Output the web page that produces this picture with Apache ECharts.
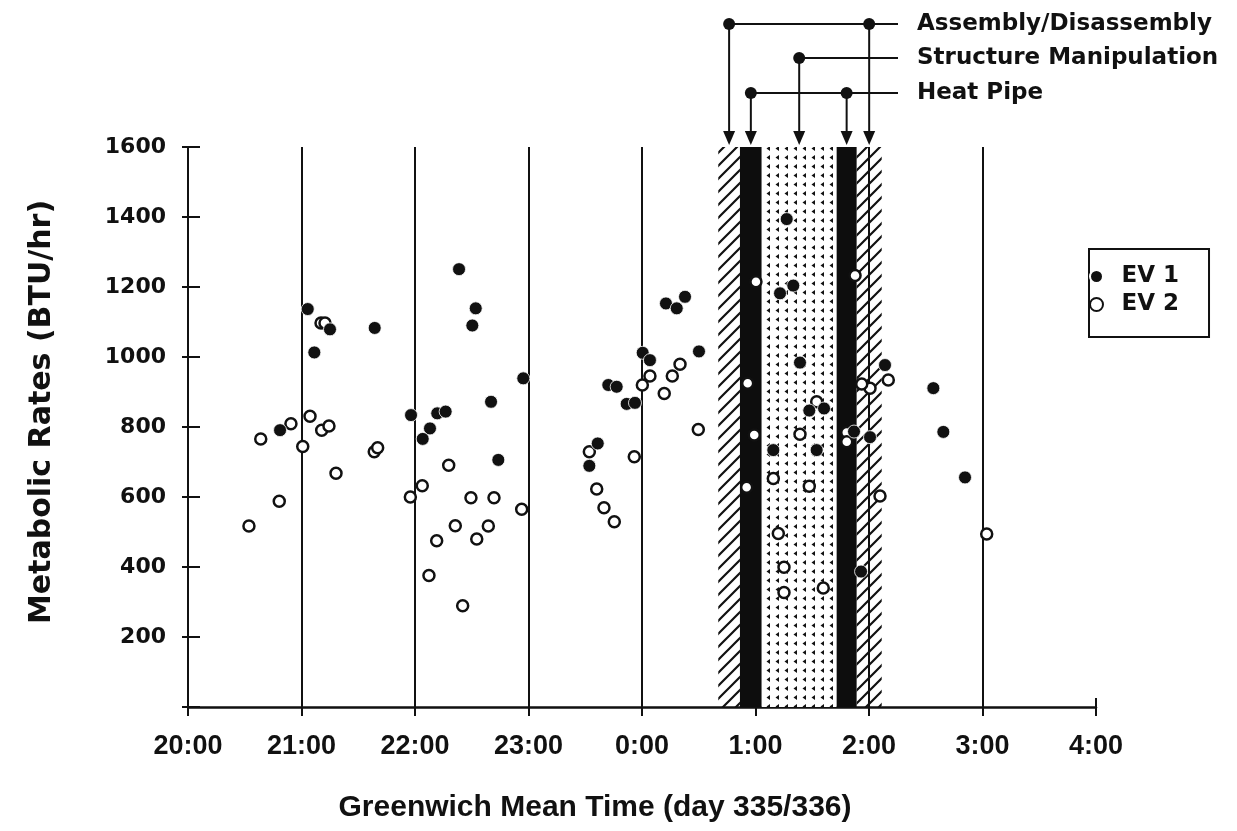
<!DOCTYPE html>
<html><head><meta charset="utf-8">
<script src="https://cdn.jsdelivr.net/npm/echarts@6/dist/echarts.min.js"></script>
<style>html,body{margin:0;padding:0;background:#fff}#c{width:1237px;height:831px}</style>
</head><body><div id="c"></div>
<script>
// ---- data (hours since 20:00 of day 335 expressed as 20..28) ----
const tickLabels = ['20:00','21:00','22:00','23:00','0:00','1:00','2:00','3:00','4:00'];
const yTicks = [0,200,400,600,800,1000,1200,1400,1600];

const ev1Times = [21.055,21.251,21.113,21.645,22.388,22.535,22.505,20.811,21.965,22.196,22.270,22.132,22.068,22.670,22.734,22.954,23.610,23.536,23.865,23.938,23.703,23.777,24.006,24.070,24.211,24.306,24.379,24.502,25.275,25.333,25.216,25.392,25.474,25.604,25.157,25.539,25.868,26.009,26.141,25.930,26.567,26.655,26.846];
const ev1Rates = [1137,1079,1013,1083,1251,1139,1090,791,834,839,844,796,766,872,706,939,753,689,866,869,920,915,1012,991,1153,1139,1172,1016,1394,1204,1182,984,847,853,734,734,787,771,977,387,911,786,656];

const ev2Times = [20.537,20.641,20.804,20.907,21.011,21.075,21.178,21.242,21.172,21.207,21.304,21.641,21.671,21.959,22.064,22.123,22.191,22.297,22.355,22.420,22.493,22.544,22.646,22.696,22.940,23.536,23.601,23.665,23.756,23.932,24.003,24.070,24.196,24.267,24.335,24.496,25.004,24.931,24.989,24.922,25.392,25.157,25.474,25.201,25.251,25.251,25.597,25.539,25.877,25.804,25.804,26.097,26.170,26.009,25.936,27.037];
const ev2Rates = [517,766,588,809,744,831,791,803,1097,1097,668,729,741,600,632,376,475,691,518,289,598,480,517,598,565,729,623,569,529,715,920,946,896,946,979,793,1215,925,777,628,779,653,631,496,399,327,340,872,1233,784,758,603,934,911,923,494];

// activity bands (time ranges)
const bandStarts = [24.672, 24.863, 25.055, 25.715, 25.891];
const bandEnds   = [24.863, 25.055, 25.715, 25.891, 26.112];
const bandKinds  = ['hatch','solid','dots','solid','hatch'];
const activityNames = ['Assembly/Disassembly','Structure Manipulation','Heat Pipe'];
const activityBands = [[0,4],[2],[1,3]];

// ---- patterns ----
function hatchPattern(){
  const c=document.createElement('canvas'); c.width=13; c.height=13;
  const g=c.getContext('2d'); g.strokeStyle='#111'; g.lineWidth=2.2;
  g.beginPath();
  g.moveTo(-2,15); g.lineTo(15,-2);
  g.moveTo(-3,3); g.lineTo(3,-3);
  g.moveTo(10,16); g.lineTo(16,10);
  g.stroke(); return c;
}
function dotPattern(){
  const c=document.createElement('canvas'); c.width=9; c.height=9;
  const g=c.getContext('2d'); g.fillStyle='#fff'; g.fillRect(0,0,9,9);
  g.fillStyle='#111';
  g.beginPath(); g.moveTo(1.5,4.5); g.lineTo(5,2); g.lineTo(5,7); g.closePath(); g.fill();
  return c;
}
const fills = {
  hatch: {image: hatchPattern(), repeat: 'repeat'},
  dots: {image: dotPattern(), repeat: 'repeat'},
  solid: '#0d0d0d'
};

const ev1 = ev1Times.map((t,i)=>[t, ev1Rates[i]]);
const ev2 = ev2Times.map((t,i)=>[t, ev2Rates[i]]);
const areas = bandStarts.map((s,i)=>[{xAxis:s, itemStyle:{color: fills[bandKinds[i]], opacity:1, borderWidth:0}}, {xAxis: bandEnds[i]}]);

const BOLD_WIDE = 'DejaVu Sans';
const BOLD_STD = 'Liberation Sans';

const chart = echarts.init(document.getElementById('c'), null, {renderer:'canvas'});
const option = {
  backgroundColor: '#fff',
  animation: false,
  grid: {left: 188, right: 141, top: 147, bottom: 124, containLabel: false},
  legend: {
    orient: 'vertical', left: 1089, top: 249,
    padding: [15, 30, 20, 0], itemGap: 3, itemWidth: 40, itemHeight: 13,
    borderColor: '#111', borderWidth: 2, borderRadius: 0,
    data: ['EV 1','EV 2'],
    textStyle: {fontFamily: BOLD_WIDE, fontWeight: 'bold', fontSize: 23, color: '#111', lineHeight: 25}
  },
  xAxis: [{
    type: 'value', min: 20, max: 28, interval: 1, position: 'bottom',
    axisLine: {show: true, onZero: false, lineStyle: {color: '#111', width: 2.5}},
    axisTick: {show: true, inside: false, length: 9, lineStyle: {color: '#111', width: 2}},
    axisLabel: {margin: 26, fontFamily: BOLD_STD, fontWeight: 'bold', fontSize: 27, color: '#111',
      formatter: v => tickLabels[Math.round(v - 20)]},
    splitLine: {show: true, showMinLine: false, showMaxLine: false, lineStyle: {color: '#111', width: 2}},
    name: 'Greenwich Mean Time (day 335/336)', nameLocation: 'middle', nameGap: 86,
    nameTextStyle: {fontFamily: BOLD_STD, fontWeight: 'bold', fontSize: 30, color: '#111', padding: [0, 94, 0, 0]}
  },{
    type: 'value', min: 20, max: 28, interval: 1, position: 'bottom',
    axisLine: {show: false, onZero: false},
    axisTick: {show: true, inside: true, length: 9, lineStyle: {color: '#111', width: 2}},
    axisLabel: {show: false}, splitLine: {show: false}
  }],
  yAxis: [{
    type: 'value', min: 0, max: 1600, interval: 200, position: 'left',
    axisLine: {show: true, onZero: false, lineStyle: {color: '#111', width: 2}},
    axisTick: {show: true, inside: true, length: 12, lineStyle: {color: '#111', width: 2}},
    axisLabel: {margin: 22, fontFamily: BOLD_WIDE, fontWeight: 'bold', fontSize: 22, color: '#111',
      formatter: v => (v === 0 ? '' : String(yTicks[v/200]))},
    splitLine: {show: false},
    name: 'Metabolic Rates (BTU/hr)', nameLocation: 'middle', nameRotate: 90, nameGap: 131,
    nameTextStyle: {fontFamily: BOLD_WIDE, fontWeight: 'bold', fontSize: 30, color: '#111', padding: [0, 0, 0, 30]}
  },{
    type: 'value', min: 0, max: 1600, interval: 200, position: 'left',
    axisLine: {show: false, onZero: false},
    axisTick: {show: true, inside: false, length: 6, lineStyle: {color: '#111', width: 2}},
    axisLabel: {show: false}, splitLine: {show: false}
  }],
  series: [{
    name: 'EV 2', type: 'scatter', data: ev2, symbol: 'circle', symbolSize: 11, z: 3,
    itemStyle: {color: '#fff', borderColor: '#111', borderWidth: 2.5, opacity: 1},
    markArea: {silent: true, data: areas, z: 1}
  },{
    name: 'EV 1', type: 'scatter', data: ev1, symbol: 'circle', symbolSize: 13, z: 4,
    itemStyle: {color: '#111', borderColor: '#fff', borderWidth: 0.8, opacity: 1}
  }]
};
chart.setOption(option);

// activity annotation above the chart, positioned from the band times
const rowY = [24, 58, 93];
const lineEndX = 898, textX = 917, arrowTop = 131, arrowTip = 145;
const graphics = [];
activityNames.forEach((name, j) => {
  const xs = activityBands[j].map(b => chart.convertToPixel({xAxisIndex: 0}, (bandStarts[b] + bandEnds[b]) / 2));
  const y = rowY[j];
  graphics.push({type:'line', shape:{x1: Math.min(...xs), y1: y, x2: lineEndX, y2: y}, style:{stroke:'#111', lineWidth:2}, z: 10});
  xs.forEach(x => {
    graphics.push({type:'line', shape:{x1:x, y1:y, x2:x, y2:arrowTop}, style:{stroke:'#111', lineWidth:2}, z: 11});
    graphics.push({type:'polygon', shape:{points:[[x-6,arrowTop],[x+6,arrowTop],[x,arrowTip]]}, style:{fill:'#111'}, z: 11});
    graphics.push({type:'circle', shape:{cx:x, cy:y, r:6}, style:{fill:'#111'}, z: 12});
  });
  graphics.push({type:'text', x: textX, y: y, style:{text: name, fill:'#111', font: 'bold 23px "DejaVu Sans"', verticalAlign:'middle', align:'left'}, z: 12});
});
chart.setOption({graphic: graphics});
</script>
</body></html>
